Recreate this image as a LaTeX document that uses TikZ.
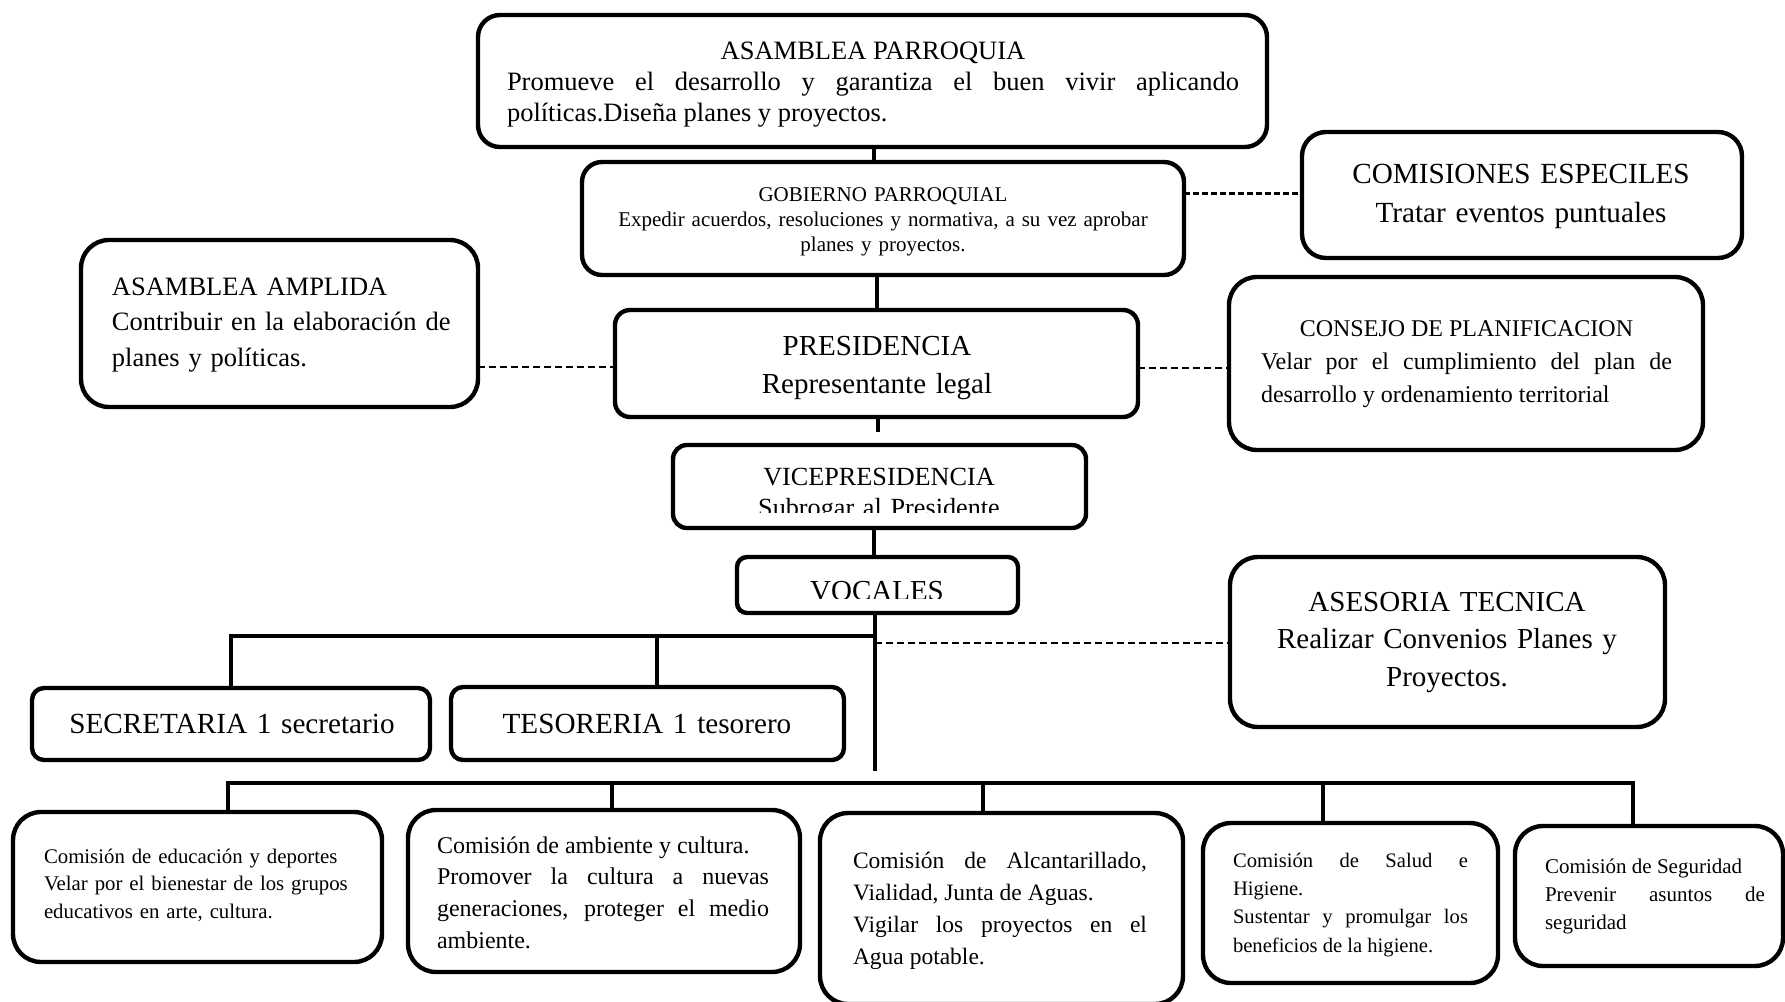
\documentclass[tikz,border=0pt]{standalone}
\usepackage{fontspec}
\setmainfont{Liberation Serif}
\usetikzlibrary{fit}
\tolerance=10000
\hbadness=10000
\hyphenpenalty=10000
\exhyphenpenalty=10000
\parindent=0pt

% frame of one unit: name, corners (x1,y1) (x2,y2), corner radius
\newcommand\orgbox[6]{%
  \node[frame, rounded corners=#6, fit={(#2,#3) (#4,#5)}] (#1) {};}

\tikzset{
  frame/.style={draw=black, line width=2.2pt, inner sep=0pt, outer sep=0pt},
  link/.style={draw=black, line width=2.4pt},
  dashthin/.style={draw=black, line width=0.8pt, dash pattern=on 3.5pt off 2pt},
  dashthick/.style={draw=black, line width=1.5pt, dash pattern=on 3pt off 1.5pt},
  lbl/.style={inner sep=0pt, outer sep=0pt, anchor=base west, align=justify},
  clbl/.style={inner sep=0pt, outer sep=0pt, anchor=base, align=center},
}

\begin{document}
\begin{tikzpicture}[x=0.5pt, y=-0.5pt]
\fill[white] (0,0) rectangle (1785,1002);
\useasboundingbox (0,0) rectangle (1785,1002);

% ---- frames ----
\orgbox{ap}{478}{15}{1267}{147}{11pt}
\orgbox{gob}{582}{162}{1184}{275}{10pt}
\orgbox{com}{1302}{132}{1742}{258}{12pt}
\orgbox{aa}{81}{240}{478}{407}{14pt}
\orgbox{pres}{615}{310}{1138}{417}{7.5pt}
\orgbox{cons}{1229}{277}{1703}{450}{14pt}
\orgbox{vice}{673}{445}{1086}{528}{7pt}
\orgbox{voc}{737}{557}{1018}{613}{5pt}
\orgbox{sec}{32}{688}{430}{760}{6pt}
\orgbox{tes}{451}{687}{844}{760}{6pt}
\orgbox{ases}{1230}{557}{1665}{727}{14pt}
\orgbox{b1}{13}{812}{382}{962}{14pt}
\orgbox{b2}{408}{810}{800}{972}{14pt}
\orgbox{b3}{820}{813}{1183}{1004}{14pt}
\orgbox{b4}{1203}{823}{1498}{983}{14pt}
\orgbox{b5}{1515}{826}{1783}{966}{14pt}

% ---- texts ----
\node[lbl, text width=366pt, font=\fontsize{13.25}{15.5}\selectfont] (ap-t) at (507,59)
  {\makebox[\linewidth]{ASAMBLEA PARROQUIA}\par
   Promueve el desarrollo y garantiza el buen vivir aplicando\linebreak
   políticas.Diseña planes y proyectos.};

\node[clbl, text width=290pt, font=\fontsize{10.5}{12.5}\selectfont] (gob-t) at (883,201)
  {GOBIERNO PARROQUIAL\\Expedir acuerdos, resoluciones y normativa, a su vez aprobar\\planes y proyectos.};

\node[clbl, text width=210pt, font=\fontsize{14.6}{19.5}\selectfont] (com-t) at (1521,183)
  {COMISIONES ESPECILES\\Tratar eventos puntuales};

\node[lbl, align=left, text width=180pt, font=\fontsize{13.25}{17.75}\selectfont] (aa-t) at (112,295)
  {ASAMBLEA AMPLIDA\\Contribuir en la elaboración de\\planes y políticas.};

\node[clbl, text width=250pt, font=\fontsize{14.5}{19}\selectfont] (pres-t) at (877,355)
  {PRESIDENCIA\\Representante legal};

\node[lbl, text width=205.5pt, font=\fontsize{12}{16.5}\selectfont] (cons-t) at (1261,336)
  {\makebox[\linewidth]{CONSEJO DE PLANIFICACION}\par
   Velar por el cumplimiento del plan de\linebreak
   desarrollo y ordenamiento territorial};

\begin{scope}
  \clip (660,440) rectangle (1100,512);
  \node[clbl, text width=200pt, font=\fontsize{13.1}{15.5}\selectfont] (vice-t) at (879,485)
    {VICEPRESIDENCIA\\Subrogar al Presidente};
\end{scope}

\begin{scope}
  \clip (740,560) rectangle (1015,598);
  \node[clbl, text width=130pt, font=\fontsize{14.5}{17}\selectfont] (voc-t) at (877,600)
    {VOCALES};
\end{scope}

\node[clbl, text width=190pt, font=\fontsize{14.6}{17}\selectfont] (sec-t) at (232,733)
  {SECRETARIA 1 secretario};
\node[clbl, text width=190pt, font=\fontsize{14.6}{17}\selectfont] (tes-t) at (647,733)
  {TESORERIA 1 tesorero};

\node[clbl, text width=210pt, font=\fontsize{14.5}{18.75}\selectfont] (ases-t) at (1447,611)
  {ASESORIA TECNICA\\Realizar Convenios Planes y\\Proyectos.};

\node[lbl, align=left, text width=170pt, font=\fontsize{10.4}{13.75}\selectfont] (b1-t) at (44,863)
  {Comisión de educación y deportes\\Velar por el bienestar de los grupos\\educativos en arte, cultura.};

\node[lbl, text width=166pt, font=\fontsize{12}{15.85}\selectfont] (b2-t) at (437,853)
  {Comisión de ambiente y cultura.\par
   Promover la cultura a nuevas\linebreak
   generaciones, proteger el medio\linebreak
   ambiente.};

\node[lbl, text width=147pt, font=\fontsize{11.75}{16}\selectfont] (b3-t) at (853,868)
  {Comisión de Alcantarillado,\linebreak
   Vialidad, Junta de Aguas.\par
   Vigilar los proyectos en el\linebreak
   Agua potable.};

\node[lbl, text width=117.5pt, font=\fontsize{10.3}{14.2}\selectfont] (b4-t) at (1233,867)
  {Comisión de Salud e\linebreak
   Higiene.\par
   Sustentar y promulgar los\linebreak
   beneficios de la higiene.};

\node[lbl, text width=110pt, font=\fontsize{10.5}{14}\selectfont] (b5-t) at (1545,873)
  {Comisión de Seguridad\par
   Prevenir asuntos de\linebreak
   seguridad};

% ---- solid links ----
\coordinate (colA) at (874,0);
\coordinate (colB) at (877,0);
\coordinate (colD) at (874,0);
\coordinate (presstub) at (878,432);
\coordinate (trunkend) at (875,771);
\coordinate (upbar) at (875,636);
\coordinate (tesdrop) at (657,636);
\coordinate (lowL) at (228,783);
\coordinate (lowR) at (1633,783);
\coordinate (d2) at (612,783);
\coordinate (d3) at (983,783);
\coordinate (d4) at (1323,783);

\draw[link] (ap.south -| colA) -- (gob.north -| colA);
\draw[link] (gob.south -| colB) -- (pres.north -| colB);
\draw[link] (pres.south -| presstub) -- (presstub);
\draw[link] (vice.south -| colD) -- (voc.north -| colD);
\draw[link] (voc.south -| trunkend) -- (trunkend);
\draw[link] (upbar) -| (sec.north);
\draw[link] (tesdrop) -- (tesdrop |- tes.north);
\draw[link] (b1.north -| lowL) -- (lowL) -- (lowR) -- (b5.north -| lowR);
\draw[link] (d2) -- (d2 |- b2.north);
\draw[link] (d3) -- (d3 |- b3.north);
\draw[link] (d4) -- (d4 |- b4.north);

% ---- dashed links ----
\coordinate (hy1) at (0,193);
\coordinate (hy2) at (0,367);
\coordinate (hy3) at (0,368);
\coordinate (hy4) at (0,643);
\draw[dashthick] (gob.east |- hy1) -- (com.west |- hy1);
\draw[dashthin] (aa.east |- hy2) -- (pres.west |- hy2);
\draw[dashthin] (pres.east |- hy3) -- (cons.west |- hy3);
\draw[dashthin] (upbar |- hy4) -- (ases.west |- hy4);
\end{tikzpicture}
\end{document}
